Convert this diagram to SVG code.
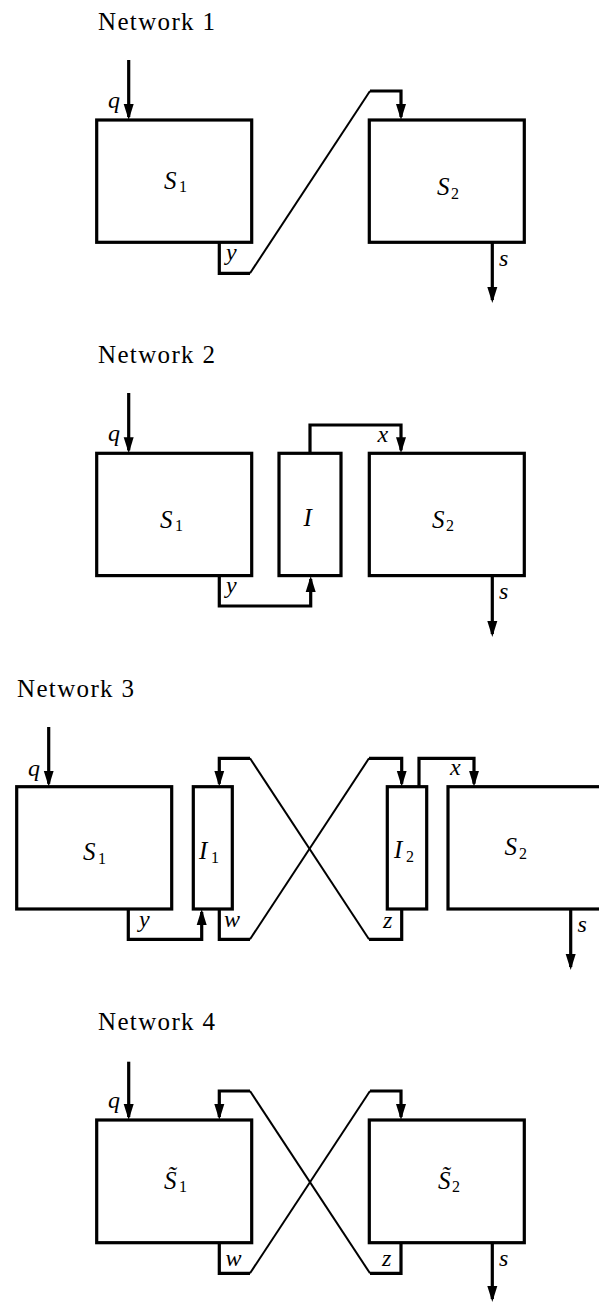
<svg xmlns="http://www.w3.org/2000/svg" width="599" height="1305" viewBox="0 0 599 1305">
<style>
.box{fill:none;stroke:#000;stroke-width:3.2}
.wire{fill:none;stroke:#000;stroke-width:3.2;stroke-linejoin:miter}
.arr{marker-end:url(#ah)}
.diag{fill:none;stroke:#000;stroke-width:2}
text{font-family:"Liberation Serif","Times New Roman","DejaVu Serif",serif}
.title{font-size:25px}
.var{font-style:italic;font-size:24px}
.big{font-size:25px}
.sub{font-size:16px}
</style>
<defs>
<marker id="ah" markerUnits="userSpaceOnUse" viewBox="0 0 16 11" markerWidth="16" markerHeight="11" refX="13" refY="5.5" orient="auto">
<path d="M0,0.5 L16,5.5 L0,10.5 z" fill="#000"/>
</marker>
</defs>
<rect width="599" height="1305" fill="#fff"/>

<!-- Network 1 -->
<text class="title" x="98" y="30" textLength="117">Network 1</text>
<g id="n1-S1"><rect class="box" x="96.7" y="120" width="155" height="122.3"/>
<text class="var big" x="164" y="188.5">S</text><text class="sub" x="179" y="192">1</text></g>
<g id="n1-S2"><rect class="box" x="369.3" y="120" width="155" height="122.3"/>
<text class="var big" x="437" y="195">S</text><text class="sub" x="451" y="198.5">2</text></g>
<g id="n1-connectors">
<path class="wire arr" d="M128.7,60 V117"/>
<path class="wire" d="M219.3,242 V273.3 H250"/>
<path class="diag" d="M250,273.3 L370,91"/>
<path class="wire arr" d="M370,91 H401 V117"/>
<path class="wire arr" d="M492.3,242 V300"/>
<text class="var" x="108" y="108">q</text>
<text class="var" x="226" y="260">y</text>
<text class="var" x="499" y="266">s</text>
</g>

<!-- Network 2 -->
<text class="title" x="98" y="363.3" textLength="117">Network 2</text>
<g id="n2-S1"><rect class="box" x="96.7" y="453.3" width="155" height="122.3"/>
<text class="var big" x="160" y="527.5">S</text><text class="sub" x="175" y="531">1</text></g>
<g id="n2-I"><rect class="box" x="279" y="453.3" width="62" height="122.3"/>
<text class="var big" x="303.5" y="525.5">I</text></g>
<g id="n2-S2"><rect class="box" x="369.3" y="453.3" width="155" height="122.3"/>
<text class="var big" x="432" y="527.5">S</text><text class="sub" x="446" y="531">2</text></g>
<g id="n2-connectors">
<path class="wire arr" d="M128.7,393 V450.3"/>
<path class="wire arr" d="M219.3,575.6 V606 H310.7 V579"/>
<path class="wire arr" d="M310,453.3 V425 H401 V450.3"/>
<path class="wire arr" d="M492.3,575.6 V634"/>
<text class="var" x="108" y="441.3">q</text>
<text class="var" x="226" y="593">y</text>
<text class="var" x="377.5" y="441.5">x</text>
<text class="var" x="499" y="599">s</text>
</g>

<!-- Network 3 -->
<text class="title" x="17" y="696.7" textLength="117">Network 3</text>
<g id="n3-S1"><rect class="box" x="16.7" y="786.7" width="155" height="122.3"/>
<text class="var big" x="83" y="860">S</text><text class="sub" x="98" y="863.5">1</text></g>
<g id="n3-I1"><rect class="box" x="193.3" y="786.7" width="39" height="122.3"/>
<text class="var big" x="199" y="859">I</text><text class="sub" x="211" y="862.5">1</text></g>
<g id="n3-I2"><rect class="box" x="387.3" y="786.7" width="39.4" height="122.3"/>
<text class="var big" x="394" y="858">I</text><text class="sub" x="406" y="861.5">2</text></g>
<g id="n3-S2"><rect class="box" x="448" y="786.7" width="160" height="122.3"/>
<text class="var big" x="504.5" y="855">S</text><text class="sub" x="519" y="858.5">2</text></g>
<g id="n3-connectors">
<path class="wire arr" d="M48.7,727 V783.7"/>
<path class="wire arr" d="M128.3,909 V939.3 H201.7 V912"/>
<path class="wire arr" d="M250,758.3 H219.3 V783.7"/>
<path class="diag" d="M250,758.3 L369,939.3"/>
<path class="wire" d="M219.3,909 V939.3 H250"/>
<path class="diag" d="M250,939.3 L369,758.3"/>
<path class="wire arr" d="M369,758.3 H401.7 V783.7"/>
<path class="wire" d="M401.7,909 V939.3 H369"/>
<path class="wire arr" d="M419,786.7 V758.3 H474 V783.7"/>
<path class="wire arr" d="M570.7,909 V967"/>
<text class="var" x="28" y="776">q</text>
<text class="var" x="139" y="927">y</text>
<text class="var" x="224" y="927">w</text>
<text class="var" x="383" y="928">z</text>
<text class="var" x="450" y="774.5">x</text>
<text class="var" x="577.5" y="932">s</text>
</g>

<!-- Network 4 -->
<text class="title" x="98" y="1030" textLength="117">Network 4</text>
<g id="n4-S1"><rect class="box" x="96.7" y="1120" width="155" height="122.7"/>
<text class="var big" x="164" y="1188.5">S&#x303;</text><text class="sub" x="179" y="1192">1</text></g>
<g id="n4-S2"><rect class="box" x="369.3" y="1120" width="155" height="122.7"/>
<text class="var big" x="438" y="1188.5">S&#x303;</text><text class="sub" x="452" y="1192">2</text></g>
<g id="n4-connectors">
<path class="wire arr" d="M128.7,1061.7 V1117"/>
<path class="wire arr" d="M250,1091 H219.3 V1117"/>
<path class="diag" d="M250,1091 L370,1273.3"/>
<path class="wire" d="M219.3,1242.7 V1273.3 H250"/>
<path class="diag" d="M250,1273.3 L370,1091"/>
<path class="wire arr" d="M370,1091 H401 V1117"/>
<path class="wire" d="M401,1242.7 V1273.3 H370"/>
<path class="wire arr" d="M492.3,1242.7 V1299"/>
<text class="var" x="108" y="1108">q</text>
<text class="var" x="225.5" y="1266">w</text>
<text class="var" x="382" y="1266">z</text>
<text class="var" x="499" y="1266">s</text>
</g>
</svg>
